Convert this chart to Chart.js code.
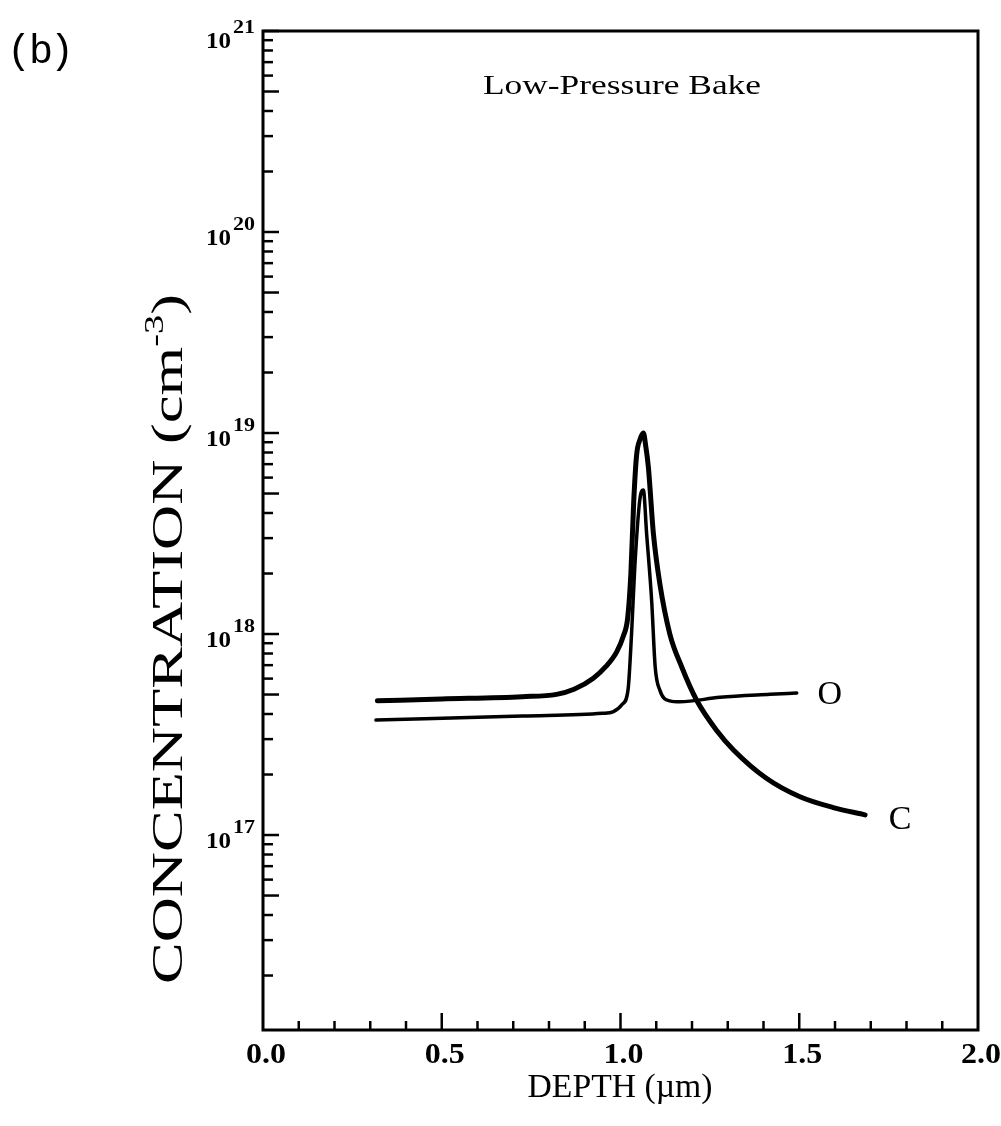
<!DOCTYPE html>
<html>
<head>
<meta charset="utf-8">
<script src="https://cdn.jsdelivr.net/npm/chart.js@4.4.0/dist/chart.umd.min.js"></script>
<style>
html,body{margin:0;padding:0;background:#fff;}
#wrap{width:1001px;height:1126px;position:relative;}
</style>
</head>
<body>
<div id="wrap"><canvas id="c" width="1001" height="1126"></canvas></div>
<script>
// ---- data ----
const depthC = [0.32, 0.5, 0.725, 0.821, 0.87, 0.924, 0.96, 0.989, 1.008, 1.02, 1.029, 1.037, 1.045, 1.055, 1.064, 1.071, 1.078, 1.092, 1.11, 1.138, 1.171, 1.213, 1.269, 1.316, 1.409, 1.502, 1.595, 1.684];
const concC  = [4.65e17, 4.75e17, 4.88e17, 5.01e17, 5.31e17, 6.03e17, 6.92e17, 8.13e17, 9.77e17, 1.20e18, 2.0e18, 4.57e18, 7.76e18, 9.33e18, 1.0e19, 8.51e18, 6.76e18, 3.16e18, 1.78e18, 1.0e18, 6.87e17, 4.68e17, 3.31e17, 2.65e17, 1.91e17, 1.55e17, 1.37e17, 1.26e17];

const depthO = [0.316, 0.725, 0.95, 0.979, 1.005, 1.021, 1.031, 1.040, 1.054, 1.064, 1.073, 1.087, 1.097, 1.110, 1.138, 1.166, 1.278, 1.418, 1.493];
const concO  = [3.73e17, 3.91e17, 4.03e17, 4.10e17, 4.47e17, 5.26e17, 1.01e18, 2.16e18, 4.65e18, 5.20e18, 3.17e18, 1.48e18, 6.87e17, 5.26e17, 4.65e17, 4.60e17, 4.84e17, 5.01e17, 5.09e17];

const xTickLabels = ['0.0', '0.5', '1.0', '1.5', '2.0'];
const xTickValues = [0, 0.5, 1.0, 1.5, 2.0];
const yDecades = [17, 18, 19, 20, 21];
const seriesNames = ['C', 'O'];
const titleText = 'Low-Pressure Bake';
const panelText = ['(', 'b', ')'];
const xTitle = 'DEPTH (\u00b5m)';
const yTitleMain = 'CONCENTRATION (cm';
const yTitleSup = '-3';
const yTitleEnd = ')';

const Y_MIN = Math.pow(10, 16.03);
const Y_MAX = 1e21;

function pts(xs, ys){ return xs.map((x,i)=>({x:x, y:ys[i]})); }

const SERIF = '"Liberation Serif", "Times New Roman", serif';

function fillStretch(ctx, text, x, y, targetW, align){
  const w = ctx.measureText(text).width;
  const s = targetW / w;
  ctx.save();
  ctx.translate(x, y);
  ctx.scale(s, 1);
  ctx.textAlign = align;
  ctx.fillText(text, 0, 0);
  ctx.restore();
}

const decor = {
  id: 'decor',
  afterDraw(chart){
    const ctx = chart.ctx;
    const xs = chart.scales.x, ys = chart.scales.y;
    const a = chart.chartArea;
    ctx.save();
    ctx.strokeStyle = '#000';
    ctx.fillStyle = '#000';
    ctx.textBaseline = 'alphabetic';
    // frame
    ctx.lineWidth = 3;
    ctx.strokeRect(a.left, a.top, a.right - a.left, a.bottom - a.top);
    // y ticks (inward)
    ctx.lineWidth = 2.5;
    for (let d = 16; d <= 21; d++){
      for (let m = 1; m <= 9; m++){
        const v = m * Math.pow(10, d);
        if (v < Y_MIN || v > Y_MAX) continue;
        const py = ys.getPixelForValue(v);
        const len = (m === 1 || m === 5) ? 16 : 10;
        ctx.beginPath(); ctx.moveTo(a.left, py); ctx.lineTo(a.left + len, py); ctx.stroke();
      }
    }
    // x ticks (inward)
    for (let i = 1; i < 20; i++){
      const v = i / 10;
      const px = xs.getPixelForValue(v);
      const len = (i % 5 === 0) ? 17 : 9;
      ctx.beginPath(); ctx.moveTo(px, a.bottom); ctx.lineTo(px, a.bottom - len); ctx.stroke();
    }
    // x tick labels
    ctx.font = 'bold 29px ' + SERIF;
    xTickValues.forEach((v,i)=>{
      fillStretch(ctx, xTickLabels[i], xs.getPixelForValue(v) + 3, a.bottom + 33, 40, 'center');
    });
    // y tick labels with superscripts
    yDecades.forEach(d=>{
      const py = ys.getPixelForValue(Math.pow(10, d));
      const base = (d === 21) ? py + 17 : py + 13;
      ctx.font = 'bold 18px ' + SERIF;
      fillStretch(ctx, String(d), 255, base - 15, 22, 'right');
      ctx.font = 'bold 24px ' + SERIF;
      fillStretch(ctx, '10', 231, base, 25, 'right');
    });
    // x axis title
    ctx.font = '34px ' + SERIF;
    fillStretch(ctx, xTitle, 620, 1097, 185, 'center');
    // y axis title rotated and stretched along its length
    ctx.save();
    ctx.translate(182, 639);
    ctx.rotate(-Math.PI/2);
    ctx.font = '44px ' + SERIF;
    const w1 = ctx.measureText(yTitleMain).width;
    ctx.font = '27px ' + SERIF;
    const w2 = ctx.measureText(yTitleSup).width;
    ctx.font = '44px ' + SERIF;
    const w3 = ctx.measureText(yTitleEnd).width;
    const total = w1 + w2 + w3;
    const s = 690 / total;
    ctx.scale(s, 1);
    let sx = -total/2;
    ctx.textAlign = 'left';
    ctx.fillText(yTitleMain, sx, 0);
    ctx.font = '27px ' + SERIF;
    ctx.fillText(yTitleSup, sx + w1, -19);
    ctx.font = '44px ' + SERIF;
    ctx.fillText(yTitleEnd, sx + w1 + w2, 0);
    ctx.restore();
    // title inside plot
    ctx.font = '28px ' + SERIF;
    fillStretch(ctx, titleText, 622, 94, 278, 'center');
    // panel label, monospaced cells
    ctx.font = '40px "Liberation Mono", "DejaVu Sans Mono", monospace';
    ctx.textAlign = 'center';
    const cellX = [19, 41, 62];
    panelText.forEach((ch, i) => ctx.fillText(ch, cellX[i], 63));
    // series labels at curve ends
    ctx.font = '34px ' + SERIF;
    ctx.textAlign = 'center';
    ctx.textBaseline = 'middle';
    const lastC = depthC.length - 1, lastO = depthO.length - 1;
    ctx.fillText(seriesNames[0], xs.getPixelForValue(depthC[lastC]) + 35, ys.getPixelForValue(concC[lastC]) + 5);
    ctx.fillText(seriesNames[1], xs.getPixelForValue(depthO[lastO]) + 33, ys.getPixelForValue(concO[lastO]) + 2);
    ctx.restore();
  }
};

new Chart(document.getElementById('c'), {
  type: 'line',
  data: {
    datasets: [
      { label: seriesNames[0], data: pts(depthC, concC), borderColor: '#000', borderWidth: 5, pointRadius: 0, cubicInterpolationMode: 'monotone', fill: false, borderCapStyle: 'round', borderJoinStyle: 'round' },
      { label: seriesNames[1], data: pts(depthO, concO), borderColor: '#000', borderWidth: 3.5, pointRadius: 0, cubicInterpolationMode: 'monotone', fill: false, borderCapStyle: 'round', borderJoinStyle: 'round' }
    ]
  },
  options: {
    responsive: false,
    devicePixelRatio: 1,
    animation: false,
    layout: { padding: { left: 263, top: 31, right: 23, bottom: 96 } },
    plugins: { legend: { display: false }, tooltip: { enabled: false }, title: { display: false } },
    scales: {
      x: { type: 'linear', min: 0, max: 2, display: false },
      y: { type: 'logarithmic', min: Y_MIN, max: Y_MAX, display: false }
    }
  },
  plugins: [decor]
});
</script>
</body>
</html>
